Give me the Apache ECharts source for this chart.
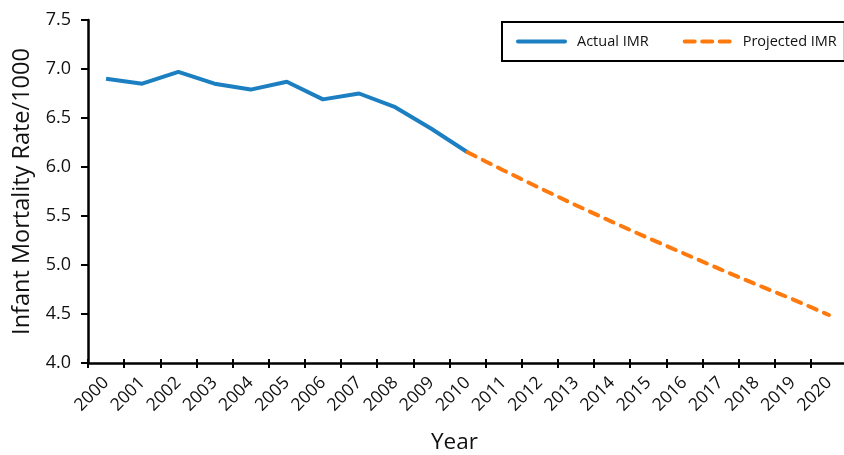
<!DOCTYPE html>
<html><head><meta charset="utf-8">
<script src="https://cdn.jsdelivr.net/npm/echarts@6/dist/echarts.min.js"></script>
<style>html,body{margin:0;padding:0;background:#fff}#c{width:844px;height:455px}</style>
</head><body><div id="c"></div>
<script>
var years = ['2000','2001','2002','2003','2004','2005','2006','2007','2008','2009','2010','2011','2012','2013','2014','2015','2016','2017','2018','2019','2020'];
var actualIMR = [6.90, 6.85, 6.97, 6.85, 6.79, 6.87, 6.69, 6.75, 6.61, 6.39, 6.15, null, null, null, null, null, null, null, null, null, null];
var projectedIMR = [null, null, null, null, null, null, null, null, null, null, 6.15, 5.965, 5.785, 5.61, 5.44, 5.275, 5.115, 4.955, 4.80, 4.65, 4.49];
var yTicks = [4.0, 4.5, 5.0, 5.5, 6.0, 6.5, 7.0, 7.5];

var FONT = '"Open Sans", "Noto Sans", sans-serif';
var BLUE = '#1b7fc2', ORANGE = '#ff7a0e';
var solidIcon = 'path://M2,0h47a2,2 0 0 1 0,4h-47a2,2 0 0 1 0,-4z';
var dashIcon = 'path://M2,0h10a2,2 0 0 1 0,4h-10a2,2 0 0 1 0,-4z M19.5,0h10a2,2 0 0 1 0,4h-10a2,2 0 0 1 0,-4z M37,0h10a2,2 0 0 1 0,4h-10a2,2 0 0 1 0,-4z';

var chart = echarts.init(document.getElementById('c'), null, {renderer: 'canvas'});
chart.setOption({
  animation: false,
  backgroundColor: '#fff',
  grid: {left: 88, top: 20, width: 759, height: 343, containLabel: false, outerBoundsMode: 'none'},
  legend: {
    left: 502, top: 22,
    padding: [10, 8, 10, 14],
    borderColor: '#000', borderWidth: 2,
    itemWidth: 51, itemHeight: 4, itemGap: 34,
    textStyle: {fontFamily: FONT, fontSize: 14.5, color: '#111', padding: [0, 0, 0, 5], lineHeight: 19},
    data: [
      {name: 'Actual IMR', icon: solidIcon, itemStyle: {color: BLUE}},
      {name: 'Projected IMR', icon: dashIcon, itemStyle: {color: ORANGE}}
    ]
  },
  xAxis: [{
    type: 'category', data: years, boundaryGap: true,
    name: 'Year', nameLocation: 'middle', nameGap: 68,
    nameTextStyle: {fontFamily: FONT, fontSize: 22.5, color: '#111', padding: [0, 26, 0, 0]},
    axisLine: {lineStyle: {color: '#000', width: 2.5}},
    axisTick: {show: true, length: 5, lineStyle: {color: '#000', width: 2}},
    axisLabel: {rotate: 45, fontFamily: FONT, fontSize: 17.5, color: '#111', margin: 17, interval: 0},
    splitLine: {show: false}
  }, {
    type: 'category', data: years, boundaryGap: true, position: 'bottom',
    axisLine: {show: false},
    axisTick: {show: true, inside: true, length: 4, lineStyle: {color: '#000', width: 2}},
    axisLabel: {show: false}, splitLine: {show: false}
  }],
  yAxis: {
    type: 'value', min: yTicks[0], max: yTicks[yTicks.length - 1], interval: 0.5,
    name: 'Infant Mortality Rate/1000', nameLocation: 'middle', nameGap: 54,
    nameTextStyle: {fontFamily: FONT, fontSize: 23.5, color: '#111'},
    axisLine: {show: true, lineStyle: {color: '#000', width: 2.5}},
    axisTick: {show: true, length: 7, lineStyle: {color: '#000', width: 2}},
    axisLabel: {fontFamily: FONT, fontSize: 18, color: '#111', margin: 17,
      formatter: function (v) { return v.toFixed(1); }},
    splitLine: {show: false}
  },
  series: [{
    name: 'Actual IMR', type: 'line', data: actualIMR, symbol: 'none',
    lineStyle: {color: BLUE, width: 4}, itemStyle: {color: BLUE}
  }, {
    name: 'Projected IMR', type: 'line', data: projectedIMR, symbol: 'none',
    lineStyle: {color: ORANGE, width: 4, type: [9, 8], cap: 'round'}, itemStyle: {color: ORANGE}
  }]
});
</script></body></html>
